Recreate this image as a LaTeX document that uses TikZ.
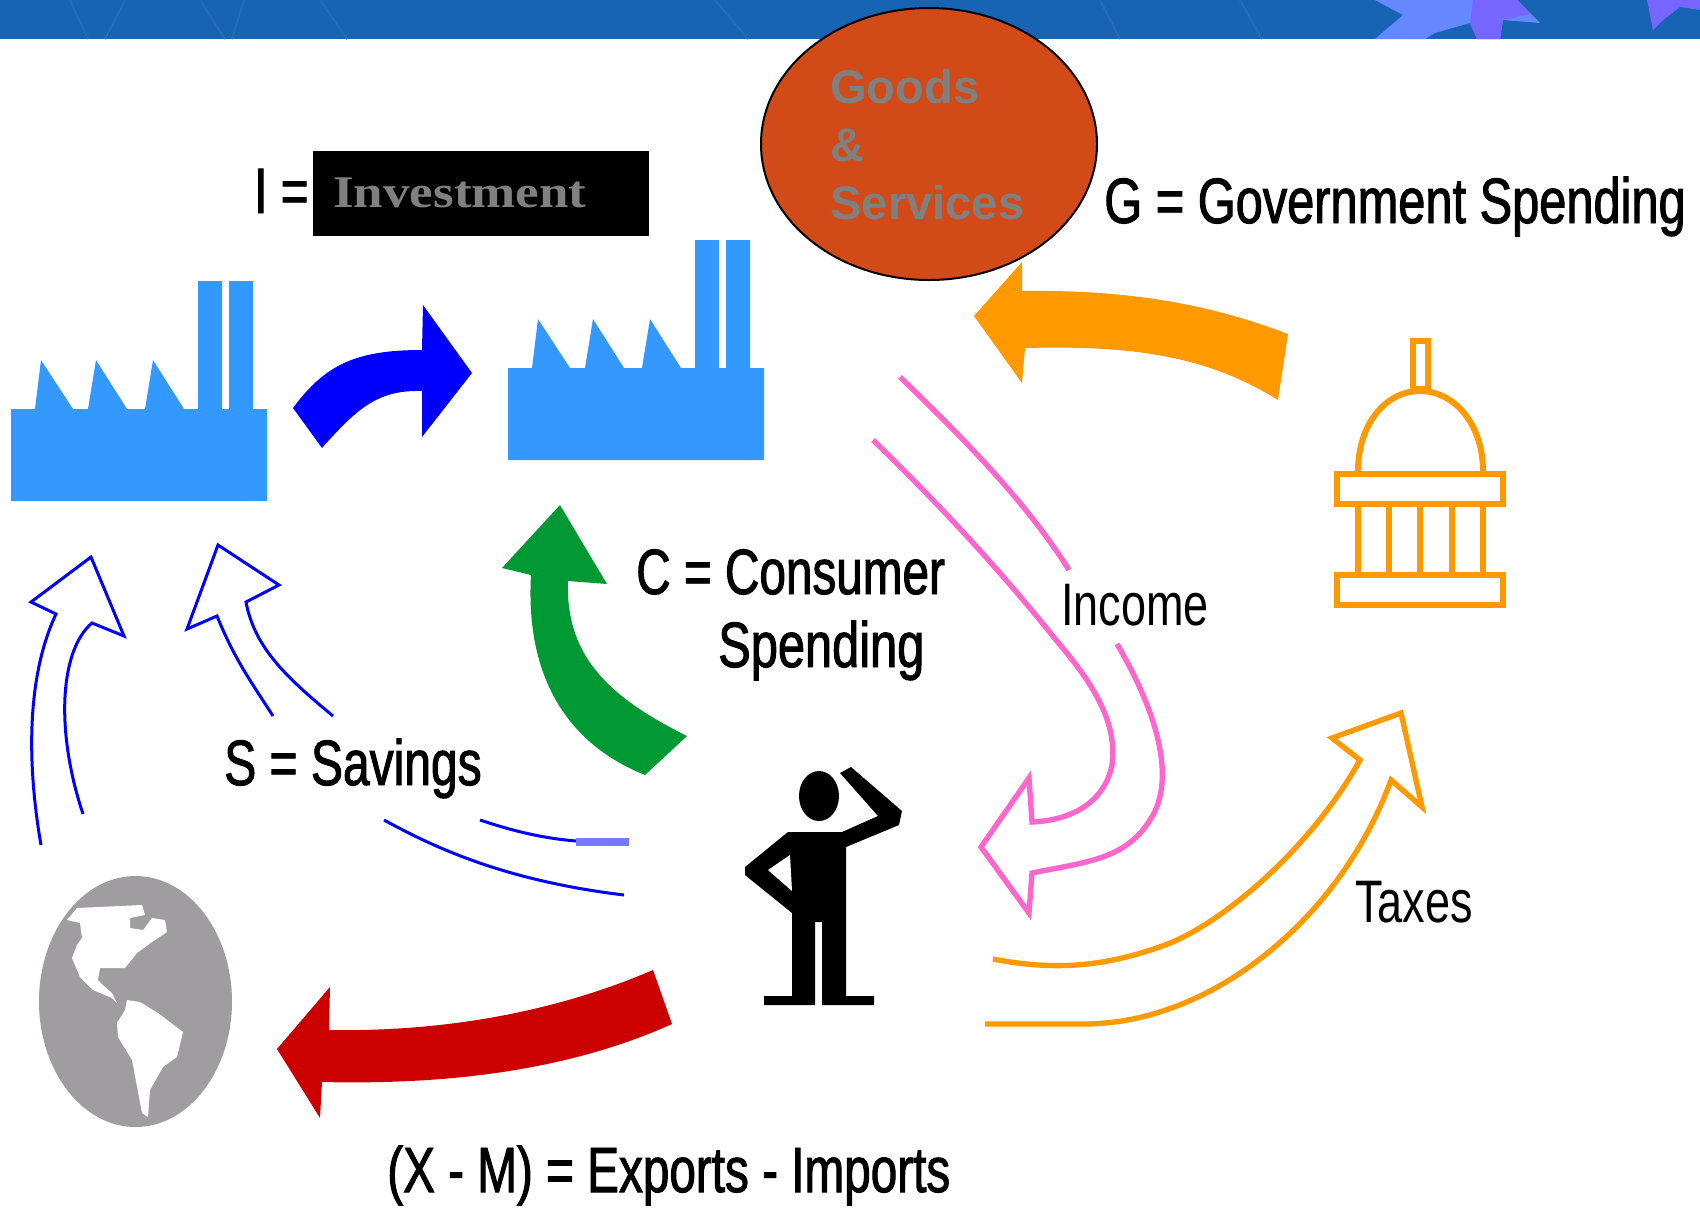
\documentclass[tikz,border=0pt]{standalone}
\usepackage{xcolor}
\usepackage{fontspec}
\setmainfont{Liberation Sans}
\newfontfamily\narrowfont[FakeStretch=0.75,FakeBold=1.5]{Liberation Sans}
\newfontfamily\widerfont[FakeStretch=0.762,FakeBold=1.5]{Liberation Sans}
\newfontfamily\tighterfont[FakeStretch=0.745,FakeBold=1.5]{Liberation Sans}
\newfontfamily\thinfont[FakeStretch=0.75]{Liberation Sans}
\newfontfamily\investfont[FakeStretch=1.17]{Liberation Serif}
\tikzset{
  labeltext/.style={anchor=base west,inner sep=0pt,font=\narrowfont\fontsize{48}{48}\selectfont},
  widerlabel/.style={labeltext,font=\widerfont\fontsize{48}{48}\selectfont},
  tighterlabel/.style={labeltext,font=\tighterfont\fontsize{48}{48}\selectfont},
  thinlabel/.style={labeltext,font=\thinfont\fontsize{45}{45}\selectfont},
  goodstext/.style={anchor=base west,inner sep=0pt,text={rgb, 255:red, 128; green, 128; blue, 128 },font=\fontsize{35.4}{35.4}\selectfont\bfseries},
  hollowarrow/.style={line width=#1,miter limit=6},
  factoryfill/.style={fill={rgb, 255:red, 51; green, 153; blue, 255 }},
  orangeline/.style={color={rgb, 255:red, 255; green, 153; blue, 0 }},
  pinkline/.style={color={rgb, 255:red, 255; green, 102; blue, 204 }},
  blueline/.style={color={rgb, 255:red, 0; green, 0; blue, 255 }}
}
\begin{document}
\begin{tikzpicture}[x=0.75pt,y=0.75pt,yscale=-1,xscale=1]
        \useasboundingbox (0,0) rectangle (1700,1208);
        %Shape: Rectangle [background]
        \fill [white] (0,0) rectangle (1700,1208);
        %Shape: Rectangle [top band]
        \fill [color={rgb, 255:red, 24; green, 100; blue, 180 }] (0,0) rectangle (1700,39);
        %Straight Lines [streaks in the band]
        \foreach \xa/\xb in {70/88,125/105,200/225,244/232,320/347,715/748,1100/1120,1240/1262} {
          \draw [color={rgb, 255:red, 34; green, 108; blue, 186 },line width=1.5] (\xa,0) -- (\xb,39);
        }
        %Shape: Polygon [stars in the band]
        \fill [color={rgb, 255:red, 102; green, 136; blue, 255 }] (1375,39) -- (1403,15) -- (1375,0) -- (1517,0) -- (1540,23) -- (1503,20) -- (1500,39) -- (1477,39) -- (1470,23) -- (1435,33) -- (1425,39) -- cycle;
        \fill [color={rgb, 255:red, 118; green, 102; blue, 255 }] (1473,0) -- (1517,0) -- (1530,14) -- (1503,20) -- (1500,39) -- (1477,39) -- (1470,23) -- cycle;
        \fill [color={rgb, 255:red, 118; green, 102; blue, 255 }] (1653,30) -- (1647,0) -- (1700,0) -- (1700,10) -- (1680,7) -- (1663,20) -- cycle;

        %Shape: Factories
        \foreach \dx/\dy in {0/0,497/-41} {
          \fill [factoryfill,shift={(\dx,\dy)}] (11,409) -- (35,409) -- (41,360) -- (73,409) -- (88,409) -- (96,360) -- (127,409) -- (145,409) -- (153,360) -- (184,409) -- (198,409) -- (198,281) -- (222,281) -- (222,409) -- (229,409) -- (229,281) -- (253,281) -- (253,409) -- (267,409) -- (267,501) -- (11,501) -- cycle;
        }

        %Curved Arrow [investment]
        \fill [color={rgb, 255:red, 0; green, 0; blue, 255 }] (293,408) .. controls (325,365) and (355,350) .. (422,350) -- (423,305) -- (472,373) -- (422,437) -- (422,391) .. controls (380,390) and (360,405) .. (322,448) -- cycle;
        %Curved Arrow [government]
        \fill [color={rgb, 255:red, 255; green, 153; blue, 0 }] (1288,334) .. controls (1230,312) and (1150,289) .. (1022,291) -- (1022,262) -- (974,316) -- (1022,383) -- (1025,348) .. controls (1140,345) and (1210,358) .. (1278,400) -- cycle;
        %Curved Arrow [consumer]
        \fill [color={rgb, 255:red, 0; green, 153; blue, 51 }] (645,775) .. controls (570,745) and (525,680) .. (531,575) -- (502,568) -- (560,505) -- (607,584) -- (568,581) .. controls (565,660) and (615,700) .. (687,736) -- cycle;
        %Curved Arrow [exports]
        \fill [color={rgb, 255:red, 204; green, 0; blue, 0 }] (653,970) .. controls (560,1010) and (450,1032) .. (329,1030) -- (330,987) -- (277,1049) -- (320,1118) -- (322,1082) .. controls (450,1085) and (570,1070) .. (672,1024) -- cycle;

        %Shape: Ellipse [goods and services]
        \draw [fill={rgb, 255:red, 209; green, 74; blue, 23 },line width=1.5] (929,144) ellipse (168 and 136);

        %Shape: Capitol
        \draw [orangeline,line width=4.5] (1337,474) rectangle (1503,504);
        \draw [orangeline,line width=4.5] (1337,575) rectangle (1503,605);
        \draw [orangeline,line width=4.5] (1413,341) rectangle (1428,389);
        \draw [orangeline,line width=4.5] (1358,471) .. controls (1358,425) and (1385,391) .. (1420,391) .. controls (1455,391) and (1483,425) .. (1483,471);
        \foreach \colx in {1358,1389,1420,1452,1483} {
          \draw [orangeline,line width=4.5] (\colx,507) -- (\colx,572);
        }

        %Hollow Arrow [income]
        \draw [pinkline,line width=4] (900,377) .. controls (960,435) and (1025,500) .. (1069,570);
        \draw [pinkline,hollowarrow=4] (1117,644) .. controls (1150,700) and (1180,775) .. (1150,820) .. controls (1125,860) and (1085,862) .. (1032,873) -- (1029,913) -- (981,847) -- (1029,778) -- (1032,822) .. controls (1075,820) and (1105,800) .. (1112,765) .. controls (1118,720) and (1090,680) .. (1056,640) .. controls (1000,570) and (940,505) .. (873,440);
        %Hollow Arrow [taxes]
        \draw [orangeline,hollowarrow=4] (993,959) .. controls (1060,972) and (1110,965) .. (1165,945) .. controls (1220,925) and (1310,850) .. (1360,760) -- (1332,738) -- (1401,713) -- (1422,807) -- (1391,780) .. controls (1340,920) and (1210,1024) .. (1084,1024) -- (985,1024);
        %Hollow Arrow [savings to the left factory]
        \draw [blueline,hollowarrow=2.25] (41,845) .. controls (28,770) and (25,680) .. (56,614) -- (31,602) -- (91,557) -- (124,636) -- (92,623) .. controls (60,650) and (55,730) .. (83,814);
        \draw [blueline,hollowarrow=2.25] (273,716) .. controls (250,680) and (235,660) .. (217,616) -- (187,629) -- (218,545) -- (279,585) -- (246,602) .. controls (255,650) and (290,680) .. (333,716);
        %Straight Lines [savings tails]
        \draw [blueline,line width=2.25] (480,820) .. controls (510,830) and (540,838) .. (576,841);
        \draw [color={rgb, 255:red, 120; green, 120; blue, 255 },line width=6] (576,842) -- (629,842);
        \draw [blueline,line width=2.25] (384,820) .. controls (430,845) and (500,880) .. (624,895);

        %Shape: Person
        \fill [black] (819,796) ellipse (20 and 25);
        \fill [black] (788,832) -- (745,867) -- (745,875) -- (792,913) -- (792,996) -- (764,996) -- (764,1005) -- (815,1005) -- (815,922) -- (822,922) -- (822,1005) -- (874,1005) -- (874,996) -- (846,996) -- (846,847) -- (899,825) -- (902,811) -- (851,767) -- (840,773) -- (878,816) -- (842,832) -- cycle;
        \fill [white] (790,855) -- (768,870) -- (792,891) -- cycle;

        %Shape: Globe
        \fill [color={rgb, 255:red, 159; green, 157; blue, 160 }] (135.5,1001.5) ellipse (96.5 and 125.5);
        \fill [white] (77,908) -- (142,905) -- (145,915) -- (130,918) -- (130,928) -- (143,930) -- (152,918) -- (165,920) -- (167,932) -- (152,942) -- (137,953) -- (125,968) -- (100,968) -- (98,980) -- (105,987) -- (112,993) -- (117,1003) -- (112,998) -- (93,990) -- (80,977) -- (72,958) -- (77,945) -- (82,938) -- (80,923) -- (67,920) -- cycle;
        \fill [white] (127,1000) -- (140,1002) -- (158,1013) -- (183,1032) -- (177,1057) -- (163,1067) -- (150,1090) -- (148,1117) -- (142,1113) -- (132,1060) -- (118,1037) -- (117,1023) -- (125,1010) -- cycle;

        %Shape: Rectangle [investment box]
        \fill [black] (313,151) rectangle (649,236);

        % Text Node
        \draw (830,103) node (goods) [goodstext] {Goods};
        % Text Node
        \draw (830,161) node (amp) [goodstext] {\&};
        % Text Node
        \draw (830,219) node (services) [goodstext] {Services};
        % Text Node
        \draw (333,207) node (invest) [anchor=base west,inner sep=0pt,text={rgb, 255:red, 128; green, 128; blue, 128 },font=\investfont\fontsize{34}{34}\selectfont\bfseries] {Investment};
        % Text Node
        \draw (254,213) node (ilabel) [tighterlabel] {I =};
        % Text Node
        \draw (1104,223) node (glabel) [widerlabel] {G = Government Spending};
        % Text Node
        \draw (636,594) node (clabel) [tighterlabel] {C = Consumer};
        % Text Node
        \draw (718,667) node (spending) [widerlabel] {Spending};
        % Text Node
        \draw (224,785) node (slabel) [labeltext] {S = Savings};
        % Text Node
        \draw (1061,625) node (income) [thinlabel] {Income};
        % Text Node
        \draw (1355,922) node (taxes) [thinlabel] {Taxes};
        % Text Node
        \draw (387,1192) node (xmlabel) [tighterlabel] {(X - M) = Exports - Imports};
\end{tikzpicture}
\end{document}
